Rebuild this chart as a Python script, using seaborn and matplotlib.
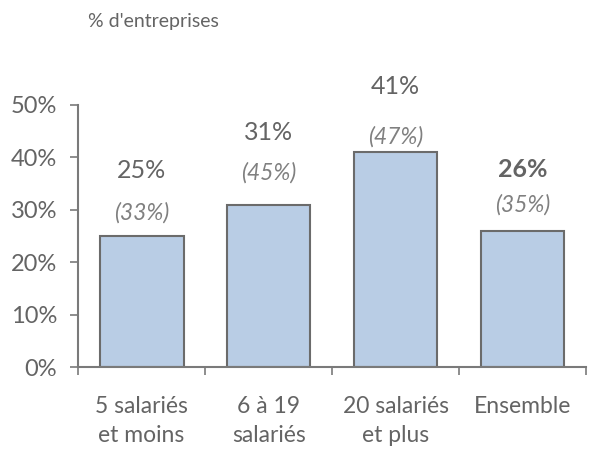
import pandas as pd
import matplotlib.pyplot as plt
import seaborn as sns

categories = ['5 salariés\net moins', '6 à 19\nsalariés', '20 salariés\net plus', 'Ensemble']
values = [25, 31, 41, 26]
paren_values = [33, 45, 47, 35]

df = pd.DataFrame({'cat': categories, 'val': values})

sns.set_style('white')
plt.rcParams['font.family'] = ['Lato', 'DejaVu Sans']

grey = '#646464'
fig = plt.figure(figsize=(6.01, 4.5), dpi=100)
ax = fig.add_axes([0.13, 0.184, 0.845, 0.583])

sns.barplot(data=df, x='cat', y='val', color='#b9cde5', edgecolor='#6b6b6b',
            linewidth=1.5, width=0.66, saturation=1, ax=ax)

ax.set_ylim(0, 50)
ax.set_xlim(-0.5, 3.5)
ax.set_yticks(range(0, 51, 10))
ax.set_yticklabels([f'{v}%' for v in range(0, 51, 10)], fontsize=17, color=grey)
ax.set_xticks(range(len(categories)))
ax.set_xticklabels(categories, fontsize=16.5, color=grey, linespacing=1.45)
ax.tick_params(axis='x', length=0, pad=21)
ax.tick_params(axis='y', length=6, color='#7a7a7a', width=1.2, left=True, direction='out', pad=9)
# minor ticks at category edges
ax.set_xticks([-0.5, 0.5, 1.5, 2.5, 3.5], minor=True)
ax.tick_params(axis='x', which='minor', length=6, color='#7a7a7a', width=1.2, bottom=True, direction='out')
ax.set_xlabel('')
ax.set_ylabel('')
sns.despine(ax=ax)
for s in ['left', 'bottom']:
    ax.spines[s].set_color('#7a7a7a')
    ax.spines[s].set_linewidth(1.5)

# label offsets in points above the bar top
paren_off = [17, 23, 11, 19]
main_off = [47, 52, 47, 44]
for i, (v, p) in enumerate(zip(values, paren_values)):
    ax.annotate(f'({p}%)', (i, v), xytext=(0, paren_off[i]), textcoords='offset points',
                ha='center', va='center', fontsize=16.5, style='italic', color='#808080',
                annotation_clip=False)
    ax.annotate(f'{v}%', (i, v), xytext=(0, main_off[i]), textcoords='offset points',
                ha='center', va='center', fontsize=18, color=grey,
                fontweight='bold' if i == 3 else 'normal', annotation_clip=False)

fig.text(0.146, 0.953, "% d'entreprises", fontsize=14, color=grey, ha='left', va='center')

fig.savefig('out.png', dpi=100)
